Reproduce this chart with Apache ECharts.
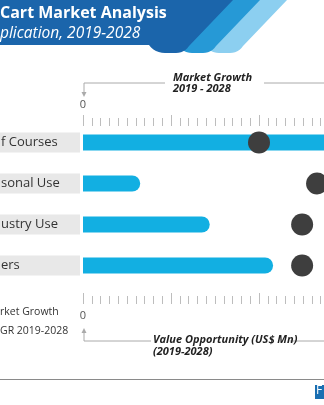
<!DOCTYPE html>
<html>
<head>
<meta charset="utf-8">
<script src="https://cdn.jsdelivr.net/npm/echarts@6/dist/echarts.min.js"></script>
<style>
html,body{margin:0;padding:0;background:#fff;}
#main{width:324px;height:405px;}
</style>
</head>
<body>
<div id="main"></div>
<script>
// ---- data ----
const categories = ['f Courses', 'sonal Use', 'ustry Use', 'ers'];
const valueOpportunity = [34, 6.5, 14.4, 21.6];   // bars (bottom axis)
const marketGrowth = [20.0, 26.6, 24.9, 24.9];     // dots (top axis)
const tickLabels = ['0'];
const titleText = 'Cart Market Analysis';
const subtitleText = 'plication, 2019-2028';
const topAxisName = ['Market Growth', '2019 - 2028'];
const bottomAxisName = ['Value Opportunity (US$ Mn)', '(2019-2028)'];
const legendLines = ['rket Growth', 'GR 2019-2028'];

const FONT = "'Open Sans', sans-serif";
const chart = echarts.init(document.getElementById('main'), null, {renderer: 'canvas'});

const tickCol = '#bdbdbd';
const labelFmt = v => tickLabels.indexOf(String(v)) >= 0 ? String(v) : '';

// header decoration helper: quadratic curve points
function quad(p0, c, p1, n) {
  const pts = [];
  for (let i = 1; i <= n; i++) {
    const t = i / n;
    pts.push([(1-t)*(1-t)*p0[0] + 2*(1-t)*t*c[0] + t*t*p1[0], (1-t)*(1-t)*p0[1] + 2*(1-t)*t*c[1] + t*t*p1[1]]);
  }
  return pts;
}
function stripe(xl, xr, leftFlat) {
  const pts = [[xl, 0], [xr, 0], [xr - 44, 46]];
  pts.push(...quad([xr - 44, 46], [xr - 49, 53], [xr - 57, 53], 6));
  pts.push([xr - 68, 53]);
  if (leftFlat) {
    pts.push(...quad([xr - 68, 53], [xr - 78, 53], [xr - 84, 45], 6));
    pts.push([0, 45]);
  } else {
    pts.push(...quad([xr - 68, 53], [xr - 76, 53], [xr - 80, 47], 6));
  }
  return pts;
}

const option = {
  backgroundColor: '#ffffff',
  animation: false,
  title: {
    text: titleText,
    subtext: subtitleText,
    left: 0, top: 3, padding: 0, itemGap: 0,
    textStyle: {color: '#fff', fontFamily: FONT, fontSize: 16, fontWeight: 'bold', lineHeight: 21},
    subtextStyle: {color: '#fff', fontFamily: FONT, fontSize: 15.5, fontStyle: 'italic', lineHeight: 19}
  },
  grid: {left: 83, top: 122, bottom: 119, right: -111, containLabel: false, outerBoundsMode: 'none'},
  xAxis: [
    {
      type: 'value', position: 'top', offset: -4, min: 0, max: 40, interval: 10,
      axisLine: {show: false}, splitLine: {show: false},
      axisTick: {show: true, length: 11, lineStyle: {color: tickCol}},
      minorTick: {show: true, splitNumber: 10, length: 8, lineStyle: {color: tickCol}},
      axisLabel: {margin: 16, color: '#555', fontFamily: FONT, fontSize: 11, formatter: labelFmt}
    },
    {
      type: 'value', position: 'bottom', offset: 18, min: 0, max: 40, interval: 10,
      axisLine: {show: false}, splitLine: {show: false},
      axisTick: {show: true, inside: true, length: 11, lineStyle: {color: tickCol}},
      minorTick: {show: true, splitNumber: 10, length: 8, lineStyle: {color: tickCol}},
      axisLabel: {margin: 6, color: '#555', fontFamily: FONT, fontSize: 11, formatter: labelFmt}
    }
  ],
  yAxis: {
    type: 'category', data: categories, inverse: true,
    axisLine: {show: false}, axisTick: {show: false}, splitLine: {show: false},
    axisLabel: {
      align: 'left', margin: 83, width: 79, height: 20, lineHeight: 20,
      padding: [0, 0, 0, 1], backgroundColor: '#e8e8e8',
      color: '#333', fontFamily: FONT, fontSize: 13
    }
  },
  series: [
    {
      type: 'bar', xAxisIndex: 1, data: valueOpportunity, barWidth: 16,
      itemStyle: {color: '#12afe2', borderRadius: [0, 8, 8, 0]}
    },
    {
      type: 'scatter', xAxisIndex: 0, symbolSize: 22,
      data: marketGrowth.map((v, i) => [v, categories[i]]),
      itemStyle: {color: '#3e3e3e', opacity: 1}, z: 5
    }
  ],
  graphic: [
    {type: 'polygon', z: -3, shape: {points: stripe(170, 287, false)}, style: {fill: '#8ccff0'}},
    {type: 'polygon', z: -2, shape: {points: stripe(150, 260, false)}, style: {fill: '#2699d6'}},
    {type: 'polygon', z: -1, shape: {points: stripe(0, 233, true)}, style: {fill: '#1b65ab'}},
    // top bracket
    {type: 'polyline', shape: {points: [[84, 94], [84, 83], [165, 83]]}, style: {stroke: '#aaa', lineWidth: 1, fill: null}},
    {type: 'line', shape: {x1: 264, y1: 83, x2: 324, y2: 83}, style: {stroke: '#aaa', lineWidth: 1}},
    {type: 'polygon', shape: {points: [[81.5, 92], [86.5, 92], [84, 97]]}, style: {fill: '#aaa'}},
    {type: 'text', left: 173, top: 72, style: {text: topAxisName.join('\n'), fill: '#222', font: "italic bold 11px 'Open Sans', sans-serif", lineHeight: 11.5}},
    // bottom bracket
    {type: 'polyline', shape: {points: [[84, 331], [84, 341], [151, 341]]}, style: {stroke: '#aaa', lineWidth: 1, fill: null}},
    {type: 'line', shape: {x1: 290, y1: 341, x2: 324, y2: 341}, style: {stroke: '#aaa', lineWidth: 1}},
    {type: 'polygon', shape: {points: [[81.5, 333], [86.5, 333], [84, 328]]}, style: {fill: '#aaa'}},
    {type: 'text', left: 153, top: 334, style: {text: bottomAxisName.join('\n'), fill: '#222', font: "italic bold 11px 'Open Sans', sans-serif", lineHeight: 12}},
    // left legend text
    {type: 'text', left: 0, top: 307, style: {text: legendLines[0], fill: '#333', font: "10.5px 'Open Sans', sans-serif"}},
    {type: 'text', left: 0, top: 326, style: {text: legendLines[1], fill: '#333', font: "10.5px 'Open Sans', sans-serif"}},
    // separator and logo fragment
    {type: 'line', shape: {x1: 0, y1: 379.5, x2: 324, y2: 379.5}, style: {stroke: '#8a8a8a', lineWidth: 1}},
    {type: 'rect', shape: {x: 315, y: 385, width: 9, height: 14}, style: {fill: '#1a6fb2'}},
    {type: 'text', left: 316, top: 385, style: {text: 'F', fill: '#fff', font: "12px 'Open Sans', sans-serif"}}
  ]
};
chart.setOption(option);
</script>
</body>
</html>
